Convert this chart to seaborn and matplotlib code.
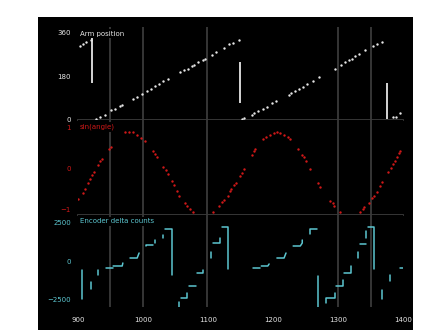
import pandas as pd
import seaborn as sns
import matplotlib.pyplot as plt
from matplotlib.patches import Rectangle

# ---- data ----
# top panel: wrapped arm position (deg)
pos_t = [903, 908, 913, 920,
         928, 934, 942, 950, 957, 964, 967, 985, 991, 998, 1006, 1012, 1018, 1024,
         1031, 1039, 1057, 1063, 1069, 1075, 1078, 1085, 1092, 1095, 1106, 1112,
         1124, 1133, 1139, 1147,
         1152, 1155, 1167, 1171, 1177, 1184, 1190, 1198, 1205, 1224, 1227, 1234,
         1240, 1246, 1253, 1261, 1270, 1295, 1304, 1311, 1317, 1321, 1326, 1333,
         1342, 1354, 1360, 1367,
         1385, 1389, 1396]
pos_deg = [305, 314, 322, 331,
           1, 8, 18, 36, 43, 53, 57, 85, 92, 103, 116, 124, 137, 145,
           158, 169, 195, 204, 211, 221, 228, 237, 246, 253, 269, 279,
           296, 312, 317, 331,
           2, 3, 18, 24, 33, 41, 50, 68, 75, 102, 109, 117,
           124, 134, 148, 158, 176, 211, 228, 237, 246, 253, 263, 270,
           288, 305, 314, 321,
           8, 8, 24]
bar_t = [921, 1149, 1375]
bar_lo = [149, 69, 0]
bar_hi = [339, 238, 149]

# middle panel: sine of the angle
sin_t = [900, 907, 910, 916, 918, 922, 925, 931, 934, 937, 947, 950,
         972, 978, 985, 991, 997, 1003, 1016, 1019, 1022, 1031, 1035, 1039,
         1044, 1047, 1053, 1056, 1065, 1068, 1072, 1077,
         1108, 1117, 1121, 1124, 1130, 1134, 1136, 1140, 1143, 1149, 1152, 1155,
         1167, 1170, 1173, 1185, 1189, 1195, 1201, 1206, 1211, 1217, 1223, 1226,
         1238, 1244, 1248, 1251, 1257, 1269, 1272, 1288, 1292, 1294, 1303,
         1334, 1338, 1340, 1347, 1353, 1356, 1360, 1365, 1368, 1377, 1381, 1384,
         1387, 1390, 1394, 1396]
sin_v = [-0.74, -0.60, -0.50, -0.36, -0.26, -0.16, -0.08, 0.09, 0.18, 0.23, 0.48, 0.52,
         0.89, 0.89, 0.89, 0.82, 0.74, 0.67, 0.43, 0.35, 0.27, 0.04, -0.05, -0.14,
         -0.30, -0.40, -0.55, -0.66, -0.85, -0.91, -0.99, -1.05,
         -1.05, -0.91, -0.82, -0.77, -0.66, -0.55, -0.50, -0.40, -0.36, -0.18, -0.12, -0.02,
         0.33, 0.43, 0.48, 0.72, 0.77, 0.82, 0.87, 0.88, 0.87, 0.82, 0.76, 0.72,
         0.48, 0.33, 0.27, 0.18, -0.01, -0.36, -0.46, -0.79, -0.85, -0.91, -1.05,
         -1.05, -1.00, -0.95, -0.85, -0.71, -0.66, -0.57, -0.42, -0.32, -0.08, 0.02, 0.10,
         0.18, 0.27, 0.37, 0.43]

# bottom panel: encoder delta, drawn as separate step pieces
enc_t = [[906, 906], [920, 920], [931, 931], [943, 954], [954, 968, 969],
         [980, 991, 994], [1005, 1005, 1015], [1018, 1018], [1031, 1031],
         [1034, 1045, 1045], [1055, 1055], [1058, 1068, 1068], [1071, 1082],
         [1083, 1092, 1092], [1105, 1105], [1108, 1118, 1118], [1122, 1131, 1131],
         [1169, 1180], [1182, 1192, 1194], [1206, 1217, 1220], [1231, 1242, 1245, 1245],
         [1257, 1257, 1268], [1269, 1269], [1282, 1282, 1295, 1295],
         [1297, 1308, 1308], [1309, 1320, 1320], [1331, 1331], [1334, 1343],
         [1343, 1343], [1346, 1355, 1355], [1368, 1368], [1380, 1380], [1395, 1400]]
enc_v = [[-2436, -577], [-1795, -1346], [-897, -577], [-449, -449], [-320, -320, -128],
         [192, 192, 513], [962, 1026, 1026], [1154, 1346], [1474, 1667],
         [2051, 2051, -897], [-2650, -3000], [-2372, -2372, -2051], [-1602, -1602],
         [-769, -769, -577], [192, 577], [1154, 1154, 1474], [2180, 2180, -513],
         [-449, -449], [-320, -320, -192], [192, 192, 513], [962, 962, 1154, 1346],
         [1731, 2051, 2051], [-961, -3000], [-2692, -2372, -2372, -2051],
         [-1602, -1602, -1218], [-769, -769, -320], [192, 577], [1090, 1090],
         [1474, 1923], [2180, 2180, -513], [-1859, -2436], [-897, -1282], [-449, -449]]

event_t = [949, 1000, 1098, 1300, 1351]
x_ticks = [900, 1000, 1100, 1200, 1300, 1400]

rows = []
for i, (ts, vs) in enumerate(zip(enc_t, enc_v)):
    for k, (t, v) in enumerate(zip(ts, vs)):
        rows.append({"seg": i, "order": k, "t": t, "v": v})
enc = pd.DataFrame(rows)

# ---- styling ----
sns.set_style("dark", {"axes.facecolor": "black", "figure.facecolor": "white"})
plt.rcParams["font.family"] = ["DejaVu Sans"]

WHITE = "#e6e6e6"
RED = "#d01818"
CYAN = "#5cc6d0"
GRID = "#3a3a3a"

fig = plt.figure(figsize=(4.21, 3.33), dpi=100)
W, H = 421, 333
fig.patches.append(Rectangle((38 / W, 1 - 330 / H), (413 - 38) / W, (330 - 17) / H,
                             transform=fig.transFigure, facecolor="black",
                             edgecolor="none", zorder=-10))


def panel(top, bottom):
    return fig.add_axes([78 / W, 1 - bottom / H, (403 - 78) / W, (bottom - top) / H])


ax1 = panel(27, 120)
ax2 = panel(120, 215)
ax3 = panel(215, 307)

# top
ax1.vlines(bar_t, bar_lo, bar_hi, color=WHITE, lw=1.3, zorder=3)
sns.scatterplot(x=pos_t, y=pos_deg, ax=ax1, color=WHITE, s=3, linewidth=0, zorder=3)
ax1.set_ylim(-4, 385)
ax1.set_yticks([0, 180, 360])

# middle
sns.scatterplot(x=sin_t, y=sin_v, ax=ax2, color=RED, s=3, linewidth=0, zorder=3)
ax2.set_ylim(-1.135, 1.18)
ax2.set_yticks([-1, 0, 1])

# bottom
sns.lineplot(data=enc, x="t", y="v", units="seg", estimator=None, sort=False,
             ax=ax3, color=CYAN, lw=1.1, zorder=3)
ax3.set_ylim(-2950, 2950)
ax3.set_yticks([-2500, 0, 2500])

titles = ["Arm position", "sin(angle)", "Encoder delta counts"]
tcolors = [WHITE, RED, CYAN]
for ax, title, c in zip([ax1, ax2, ax3], titles, tcolors):
    ax.set_facecolor("black")
    ax.set_xlim(900, 1400)
    for t in event_t:
        ax.axvline(t, color=GRID, lw=1.3, zorder=1)
    for s in ["top", "left", "right", "bottom"]:
        ax.spines[s].set_visible(False)
    ax.set_xlabel("")
    ax.set_ylabel("")
    ax.tick_params(axis="y", length=0, pad=5, labelsize=5, labelcolor=c)
    ax.tick_params(axis="x", length=0, labelsize=5)
    ax.grid(False)
    ax.text(0.006, 0.93, title, transform=ax.transAxes, color=c, fontsize=5,
            va="center", ha="left", zorder=5,
            bbox=dict(facecolor="black", edgecolor="none", pad=1.2))

for ax in [ax1, ax2]:
    ax.spines["bottom"].set_visible(True)
    ax.spines["bottom"].set_color(GRID)
    ax.spines["bottom"].set_linewidth(1.3)
    ax.set_xticks([])

ax3.set_xticks(x_ticks)
ax3.tick_params(axis="x", pad=7, labelcolor=WHITE)

fig.savefig("out.png", dpi=100, facecolor="white")
